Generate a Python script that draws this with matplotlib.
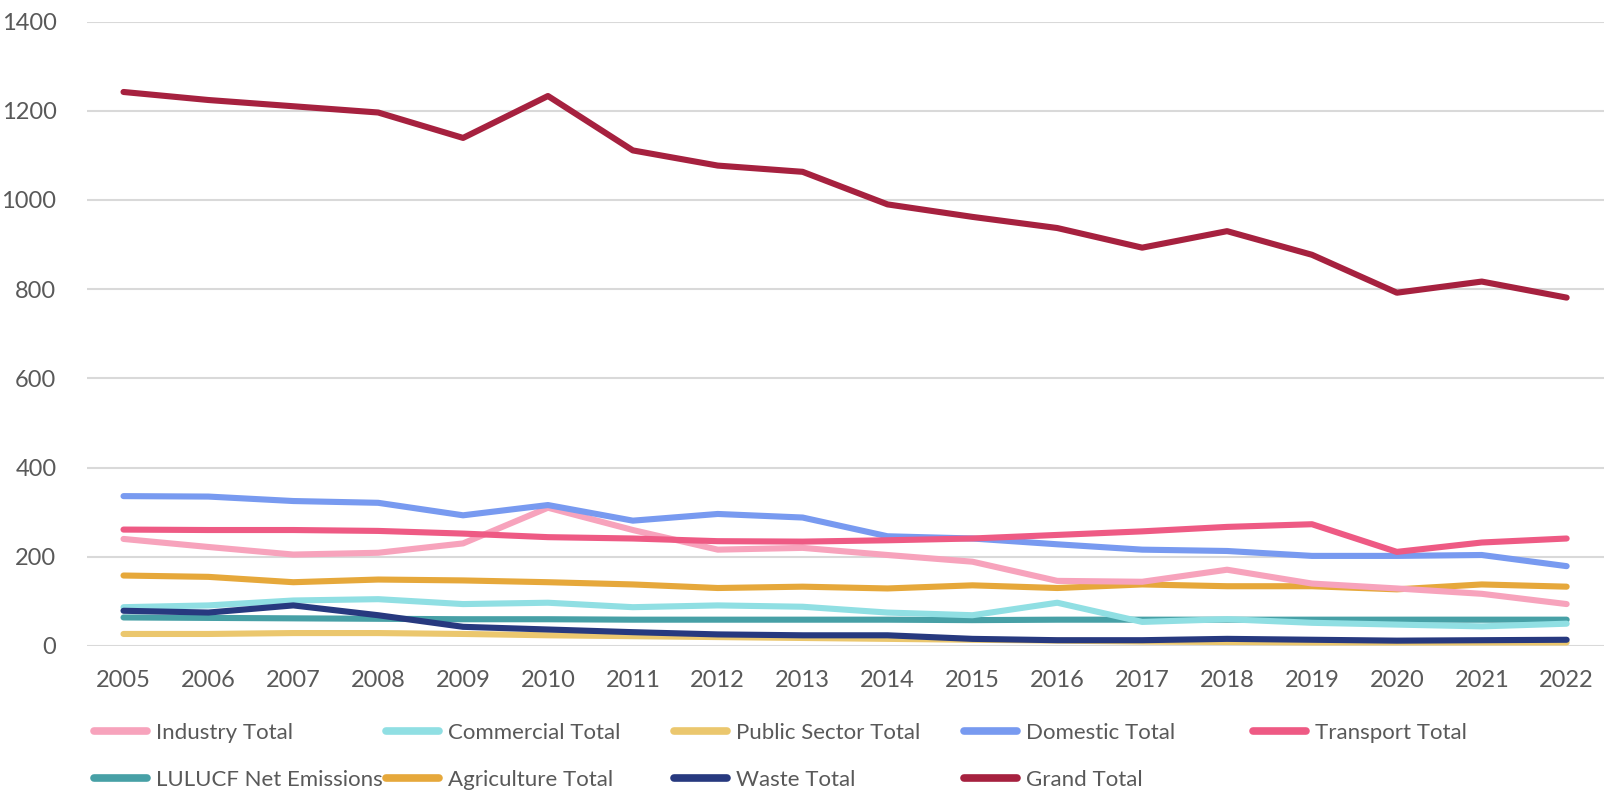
import matplotlib
matplotlib.use("Agg")
import matplotlib.pyplot as plt
from matplotlib.lines import Line2D

plt.rcParams['font.family'] = ['Lato', 'DejaVu Sans']

years = [str(y) for y in range(2005, 2023)]

industry = [240, 222, 205, 209, 230, 310, 260, 216, 220, 204, 189, 146, 144, 171, 140, 129, 117, 94]
commercial = [87, 91, 102, 105, 94, 97, 87, 91, 88, 75, 69, 97, 54, 60, 52, 48, 44, 50]
public_sector = [27, 27, 29, 29, 27, 24, 22, 20, 18, 16, 14, 12, 10, 9, 8, 8, 8, 8]
domestic = [336, 335, 325, 321, 293, 316, 281, 296, 288, 246, 241, 228, 216, 213, 202, 202, 204, 179]
transport = [261, 260, 260, 258, 252, 244, 241, 235, 234, 237, 241, 249, 257, 267, 273, 211, 232, 241]
lulucf = [64, 63, 62, 61, 60, 60, 59, 59, 59, 59, 58, 59, 59, 59, 59, 59, 59, 59]
agriculture = [158, 155, 143, 149, 147, 143, 138, 130, 133, 129, 136, 130, 138, 134, 134, 127, 138, 133]
waste = [79, 75, 91, 69, 43, 37, 31, 26, 24, 24, 16, 13, 13, 16, 14, 12, 13, 14]
grand_total = [1242, 1224, 1210, 1196, 1139, 1233, 1111, 1077, 1063, 990, 962, 937, 893, 930, 877, 792, 817, 781]

series = [
    ("Industry Total", industry, "#F7A3BC"),
    ("Commercial Total", commercial, "#90DFE3"),
    ("Public Sector Total", public_sector, "#EBC76E"),
    ("Domestic Total", domestic, "#789AF0"),
    ("Transport Total", transport, "#EE5A84"),
    ("LULUCF Net Emissions", lulucf, "#47A0A6"),
    ("Agriculture Total", agriculture, "#E6A83B"),
    ("Waste Total", waste, "#27397F"),
    ("Grand Total", grand_total, "#A6213F"),
]
# drawing order (bottom to top) roughly as in the reference
draw_order = [2, 5, 1, 7, 6, 0, 3, 4, 8]

fig = plt.figure(figsize=(16.04, 7.92), dpi=100)
ax = fig.add_axes([87 / 1604, 1 - 646 / 792, 1 - 87 / 1604, (646 - 21.5) / 792])

x = list(range(len(years)))
for i in draw_order:
    name, vals, col = series[i]
    ax.plot(x, vals, color=col, lw=4.4, solid_capstyle='round', solid_joinstyle='round', zorder=3)

ax.set_ylim(0, 1400)
ax.set_xlim(-0.43, 17.44)
ax.set_yticks(range(0, 1401, 200))
ax.set_xticks(x)
ax.set_xticklabels(years)
ax.grid(axis='y', color='#D9D9D9', lw=1.5, zorder=0)
for s in ax.spines.values():
    s.set_visible(False)
ax.tick_params(length=0, labelsize=17, colors='#595959')
ax.tick_params(axis='y', pad=22)
ax.tick_params(axis='x', pad=17)

# legend: 5 columns, 2 rows, placed column by column
col_x = [95, 380, 662, 945, 1228]
columns = [[0, 5], [1, 6], [2, 7], [3, 8], [4]]
for cx, idxs in zip(col_x, columns):
    handles = [Line2D([], [], color=series[i][2], lw=5.5, solid_capstyle='round') for i in idxs]
    labels = [series[i][0] for i in idxs]
    fig.legend(handles, labels, loc='upper left',
               bbox_to_anchor=(cx * 1.023 / 1604 - 0.002, 1 - 723 / 792),
               frameon=False, fontsize=16, handlelength=2.4, handletextpad=0.4,
               labelspacing=1.2, borderpad=0, borderaxespad=0, labelcolor='#595959')

fig.savefig("out.png", dpi=100)
